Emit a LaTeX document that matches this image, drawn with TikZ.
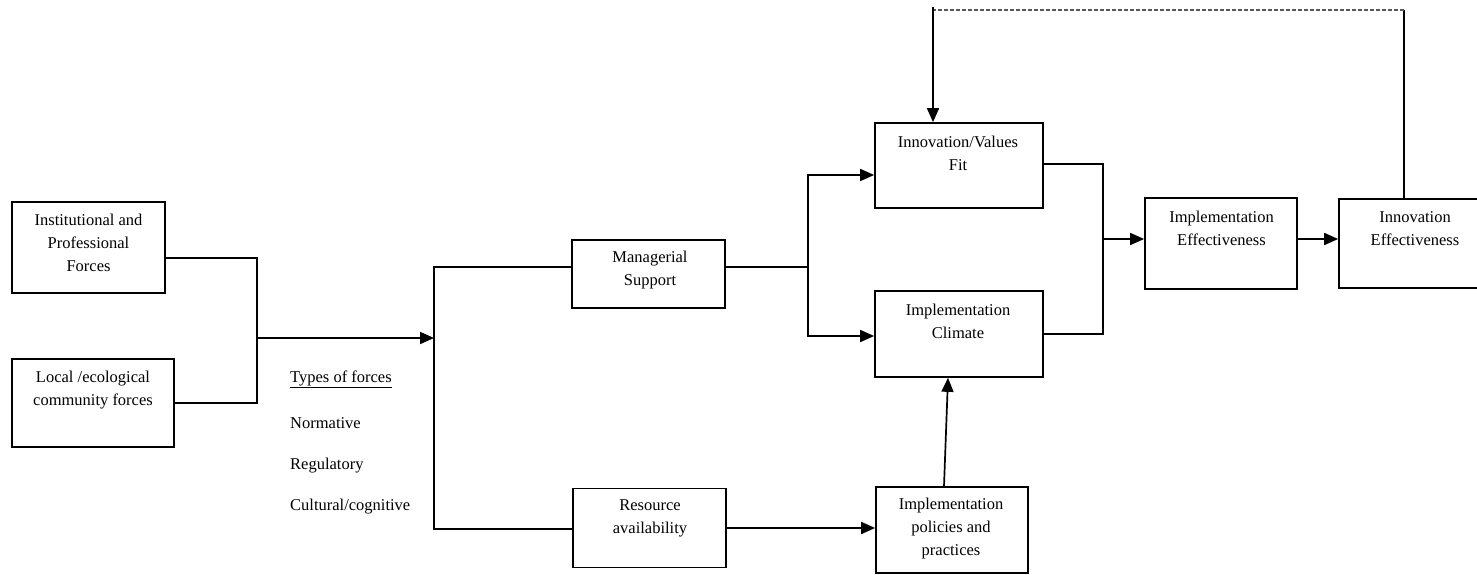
\documentclass[tikz,border=0pt]{standalone}
\usepackage{fontspec}
\setmainfont{Liberation Serif}
\usetikzlibrary{arrows.meta}
\tikzset{
  box/.style={draw, line width=1.7pt, inner sep=0pt},
  txt/.style={font=\fontsize{16.5}{23}\selectfont, align=center, inner sep=0pt},
  conn/.style={line width=1.7pt},
  arr/.style={-{Triangle[length=14pt,width=12pt]}},
}
\begin{document}
\begin{tikzpicture}[x=1pt,y=-1pt]
\useasboundingbox (0,0) rectangle (1477,575);
\clip (0,0) rectangle (1477,575);
\fill[white] (0,0) rectangle (1477,575);

% boxes
\node[box, minimum width=153pt, minimum height=91pt] (inst) at (88.5,247.5) {};
\node[box, minimum width=162pt, minimum height=88pt] (local) at (93,403) {};
\node[box, minimum width=153pt, minimum height=68pt] (mgr) at (648.5,274) {};
\node[box, minimum width=153pt, minimum height=79pt] (res) at (649.5,528) {};
\node[box, minimum width=168pt, minimum height=85pt] (fit) at (959,165.5) {};
\node[box, minimum width=168pt, minimum height=86pt] (clim) at (959,334) {};
\node[box, minimum width=152pt, minimum height=86pt] (pol) at (952,530) {};
\node[box, minimum width=152pt, minimum height=91pt] (ieff) at (1221,243.5) {};
\node[box, minimum width=152pt, minimum height=89pt] (inno) at (1415,243.5) {};

% texts
\node[txt] (inst-t) at (88.5,243) {Institutional and\\Professional\\Forces};
\node[txt] (local-t) at (93,390.5) {Local /ecological\\community forces};
\node[txt] (mgr-t) at (650,270.5) {Managerial\\Support};
\node[txt] (res-t) at (650,518.5) {Resource\\availability};
\node[txt] (fit-t) at (958,153) {Innovation/Values\\Fit};
\node[txt] (clim-t) at (958,321) {Implementation\\Climate};
\node[txt] (pol-t) at (951,529) {Implementation\\policies and\\practices};
\node[txt] (ieff-t) at (1221.5,228.5) {Implementation\\Effectiveness};
\node[txt] (inno-t) at (1415,228.5) {Innovation\\Effectiveness};

\node[txt, anchor=west] (types) at (290,379) {\underline{Types of forces}};
\node[txt, anchor=west] (norm) at (290,423) {Normative};
\node[txt, anchor=west] (reg) at (290,466) {Regulatory};
\node[txt, anchor=west] (cult) at (290,507) {Cultural/cognitive};

% junction coordinates
\coordinate (j1) at (257,338);
\coordinate (j2) at (434,338);
\coordinate (j3) at (808,267);
\coordinate (j4) at (1103,239);
\coordinate (fbR) at (1404,10.5);
\coordinate (fbL) at (933,10.5);

% connectors
\draw[conn] ([yshift=-10.5pt]inst.east) -| (j1) |- (local.east);
\draw[conn,arr] (j1) -- (j2);
\draw[conn] ([yshift=7pt]mgr.west) -| (j2) |- ([yshift=-1pt]res.west);

\draw[conn] ([yshift=7pt]mgr.east) -- (j3);
\draw[conn,arr] (j3) |- ([yshift=-9.5pt]fit.west);
\draw[conn,arr] (j3) |- ([yshift=-2pt]clim.west);

\draw[conn,arr] (res.east) -- (pol.west |- res.east);
\draw[conn,arr] ([xshift=-8pt]pol.north) -- ([xshift=-11pt]clim.south);

\draw[conn] ([yshift=1.5pt]fit.east) -| (j4) |- (clim.east);
\draw[conn,arr] (j4) -- ([yshift=4.5pt]ieff.west);
\draw[conn,arr] ([yshift=4.5pt]ieff.east) -- ([yshift=4.5pt]inno.west);

% feedback loop
\draw[conn, line width=1.3pt] ([xshift=-11pt]inno.north) -- (fbR);
\draw[line width=2pt, black!65, dash pattern=on 4pt off 2pt] (fbR) -- (fbL);
\draw[conn,arr] ([yshift=3pt]fbL) -- (fbL |- fit.north);
\end{tikzpicture}
\end{document}
